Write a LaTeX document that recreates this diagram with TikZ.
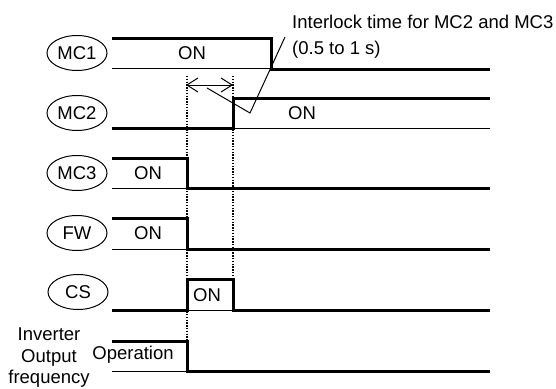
\documentclass[tikz,border=0pt]{standalone}
\usepackage{fontspec}
\setmainfont{Liberation Sans}
\usetikzlibrary{arrows.meta,shapes.geometric}
\begin{document}
\begin{tikzpicture}[x=1pt,y=-1pt,
  every node/.style={font=\fontsize{18.5}{21.5}\selectfont, inner sep=0pt},
  sig/.style={line width=3pt, line cap=butt, line join=miter},
  base/.style={line width=1pt},
  lbl/.style={draw, ellipse, line width=1pt, minimum width=60pt, minimum height=35pt},
  dots/.style={line width=1.4pt, dash pattern=on 1.4pt off 1.4pt},
  thin/.style={line width=1pt}]
\useasboundingbox (0,0) rectangle (556,388);
% labels
\node[lbl] (mc1) at (77,53) {MC1};
\node[lbl] (mc2) at (77,113) {MC2};
\node[lbl] (mc3) at (77,173) {MC3};
\node[lbl] (fw) at (77,233) {FW};
\node[lbl] (cs) at (78,292) {CS};
\node[align=center] (inv) at (49,358) {Inverter\\Output\\frequency};
% MC1
\draw[base] (112,68) -- (271,68);
\draw[sig] (112,38) -- (271,38) -- (271,69) -- (490,69);
\node (on1) at (192,53) {ON};
% MC2
\draw[base] (233,128) -- (490,128);
\draw[sig] (112,128) -- (233,128) -- (233,98) -- (490,98);
\node[anchor=west] (on2) at (288,113) {ON};
% MC3
\draw[base] (112,188) -- (187,188);
\draw[sig] (112,158) -- (187,158) -- (187,188) -- (490,188);
\node (on3) at (148,173) {ON};
% FW
\draw[base] (112,249) -- (187,249);
\draw[sig] (112,218) -- (187,218) -- (187,249) -- (490,249);
\node (on4) at (148,233) {ON};
% CS
\draw[base] (187,310) -- (233,310);
\draw[sig] (112,310) -- (187,310) -- (187,279) -- (233,279) -- (233,310) -- (490,310);
\node (on5) at (207,295) {ON};
% Inverter
\draw[base] (112,371) -- (187,371);
\draw[sig] (112,341) -- (187,341) -- (187,371) -- (490,371);
\node (op) at (133,355) {Operation};
% dotted lines
\coordinate (d1top) at (187,76);
\coordinate (d1bot) at (187,341);
\coordinate (d2top) at (233,76);
\coordinate (d2bot) at (233,279);
\draw[dots] (d1top) -- (d1bot);
\draw[dots] (d2top) -- (d2bot);
% interval arrow
\coordinate (aL) at (186,85);
\coordinate (aR) at (233,85);
\draw[thin, {Straight Barb[length=11pt,width=14pt,line width=1pt]}-{Straight Barb[length=11pt,width=14pt,line width=1pt]}] (aL) -- (aR);
% annotation
\node[anchor=west] (note1) at (292,22) {Interlock time for MC2 and MC3};
\node[anchor=west] (note2) at (292,50) {(0.5 to 1 s)};
\coordinate (l1) at (207,88);
\coordinate (l2) at (250,113);
\coordinate (l3) at (285,37);
\draw[thin] (l1) -- (l2) -- (l3);
\end{tikzpicture}
\end{document}
